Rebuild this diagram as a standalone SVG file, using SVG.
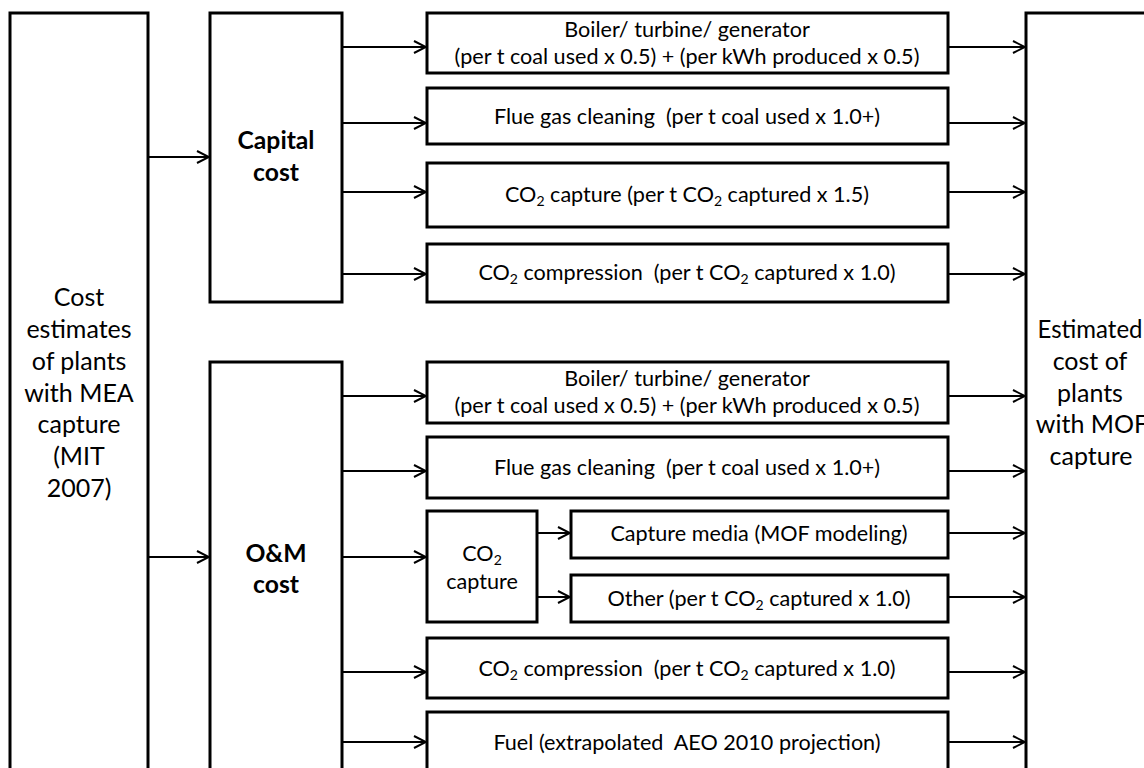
<svg xmlns="http://www.w3.org/2000/svg" width="1144" height="768" viewBox="0 0 1144 768">
<defs>
<style>
.box{fill:#fff;stroke:#000;stroke-width:3}
.ln{stroke:#000;stroke-width:2;fill:none;marker-end:url(#ah)}
text{font-family:Lato,"Liberation Sans",sans-serif;fill:#000;text-anchor:middle}
.big{font-size:25px}
.bold{font-size:24.7px;font-weight:bold}
.t{font-size:21.6px}
.sub{font-size:14px}
</style>
<marker id="ah" markerUnits="userSpaceOnUse" markerWidth="14" markerHeight="14" refX="13" refY="7" orient="auto" viewBox="0 0 14 14"><path d="M1,1 L13,7 L1,13" fill="none" stroke="#000" stroke-width="2"/></marker>
</defs>
<rect width="1144" height="768" fill="#fff"/>
<g id="connectors">
<line class="ln" x1="148" y1="157" x2="209" y2="157"/>
<line class="ln" x1="148" y1="557" x2="209" y2="557"/>
<line class="ln" x1="342" y1="47" x2="426" y2="47"/>
<line class="ln" x1="342" y1="123" x2="426" y2="123"/>
<line class="ln" x1="342" y1="192" x2="426" y2="192"/>
<line class="ln" x1="342" y1="274" x2="426" y2="274"/>
<line class="ln" x1="342" y1="396" x2="426" y2="396"/>
<line class="ln" x1="342" y1="471" x2="426" y2="471"/>
<line class="ln" x1="342" y1="557" x2="426" y2="557"/>
<line class="ln" x1="342" y1="672" x2="426" y2="672"/>
<line class="ln" x1="342" y1="742" x2="426" y2="742"/>
<line class="ln" x1="537" y1="533" x2="570" y2="533"/>
<line class="ln" x1="537" y1="597" x2="570" y2="597"/>
<line class="ln" x1="948" y1="47" x2="1025" y2="47"/>
<line class="ln" x1="948" y1="123" x2="1025" y2="123"/>
<line class="ln" x1="948" y1="192" x2="1025" y2="192"/>
<line class="ln" x1="948" y1="274" x2="1025" y2="274"/>
<line class="ln" x1="948" y1="396" x2="1025" y2="396"/>
<line class="ln" x1="948" y1="471" x2="1025" y2="471"/>
<line class="ln" x1="948" y1="533" x2="1025" y2="533"/>
<line class="ln" x1="948" y1="597" x2="1025" y2="597"/>
<line class="ln" x1="948" y1="672" x2="1025" y2="672"/>
<line class="ln" x1="948" y1="742" x2="1025" y2="742"/>
</g>
<g id="mea">
<rect class="box" x="10" y="13" width="138" height="800"/>
<text class="big" x="79" y="306">Cost</text>
<text class="big" x="79" y="338">estimates</text>
<text class="big" x="79" y="370">of plants</text>
<text class="big" x="79" y="402">with MEA</text>
<text class="big" x="79" y="433">capture</text>
<text class="big" x="79" y="465">(MIT</text>
<text class="big" x="79" y="497">2007)</text>
</g>
<g id="capital">
<rect class="box" x="210" y="13" width="132" height="289"/>
<text class="bold" x="276" y="149">Capital</text>
<text class="bold" x="276" y="181">cost</text>
</g>
<g id="om">
<rect class="box" x="210" y="362" width="132" height="450"/>
<text class="bold" x="276" y="562">O&amp;M</text>
<text class="bold" x="276" y="593">cost</text>
</g>
<g id="mof">
<rect class="box" x="1026" y="13" width="200" height="800"/>
<text class="big" x="1090" y="338" textLength="105" lengthAdjust="spacingAndGlyphs">Estimated</text>
<text class="big" x="1090" y="370">cost of</text>
<text class="big" x="1090" y="402">plants</text>
<text class="big" x="1092" y="433">with MOF</text>
<text class="big" x="1091" y="465">capture</text>
</g>
<g id="cap-btg">
<rect class="box" x="427" y="13" width="521" height="60"/>
<text class="t" x="687" y="37">Boiler/ turbine/ generator</text>
<text class="t" x="687" y="64">(per t coal used x 0.5) + (per kWh produced x 0.5)</text>
</g>
<g id="cap-flue">
<rect class="box" x="427" y="88" width="521" height="56"/>
<text class="t" x="687" y="124" xml:space="preserve">Flue gas cleaning  (per t coal used x 1.0+)</text>
</g>
<g id="cap-capture">
<rect class="box" x="427" y="163" width="521" height="64"/>
<text class="t" x="687" y="202" xml:space="preserve">CO<tspan class="sub" dy="4">2</tspan><tspan dy="-4"> capture (per t CO</tspan><tspan class="sub" dy="4">2</tspan><tspan dy="-4"> captured x 1.5)</tspan></text>
</g>
<g id="cap-comp">
<rect class="box" x="427" y="244" width="521" height="58"/>
<text class="t" x="687" y="280" xml:space="preserve">CO<tspan class="sub" dy="4">2</tspan><tspan dy="-4"> compression  (per t CO</tspan><tspan class="sub" dy="4">2</tspan><tspan dy="-4"> captured x 1.0)</tspan></text>
</g>
<g id="om-btg">
<rect class="box" x="427" y="362" width="521" height="61"/>
<text class="t" x="687" y="386">Boiler/ turbine/ generator</text>
<text class="t" x="687" y="413">(per t coal used x 0.5) + (per kWh produced x 0.5)</text>
</g>
<g id="om-flue">
<rect class="box" x="427" y="437" width="521" height="61"/>
<text class="t" x="687" y="475" xml:space="preserve">Flue gas cleaning  (per t coal used x 1.0+)</text>
</g>
<g id="om-capture">
<rect class="box" x="427" y="511" width="110" height="111"/>
<text class="t" x="482" y="561">CO<tspan class="sub" dy="4">2</tspan></text>
<text class="t" x="482" y="589">capture</text>
</g>
<g id="om-media">
<rect class="box" x="571" y="511" width="377" height="47"/>
<text class="t" x="759" y="541">Capture media (MOF modeling)</text>
</g>
<g id="om-other">
<rect class="box" x="571" y="575" width="377" height="47"/>
<text class="t" x="759" y="606" xml:space="preserve">Other (per t CO<tspan class="sub" dy="4">2</tspan><tspan dy="-4"> captured x 1.0)</tspan></text>
</g>
<g id="om-comp">
<rect class="box" x="427" y="638" width="521" height="60"/>
<text class="t" x="687" y="676" xml:space="preserve">CO<tspan class="sub" dy="4">2</tspan><tspan dy="-4"> compression  (per t CO</tspan><tspan class="sub" dy="4">2</tspan><tspan dy="-4"> captured x 1.0)</tspan></text>
</g>
<g id="om-fuel">
<rect class="box" x="427" y="712" width="521" height="100"/>
<text class="t" x="687" y="750" xml:space="preserve">Fuel (extrapolated  AEO 2010 projection)</text>
</g>
</svg>
